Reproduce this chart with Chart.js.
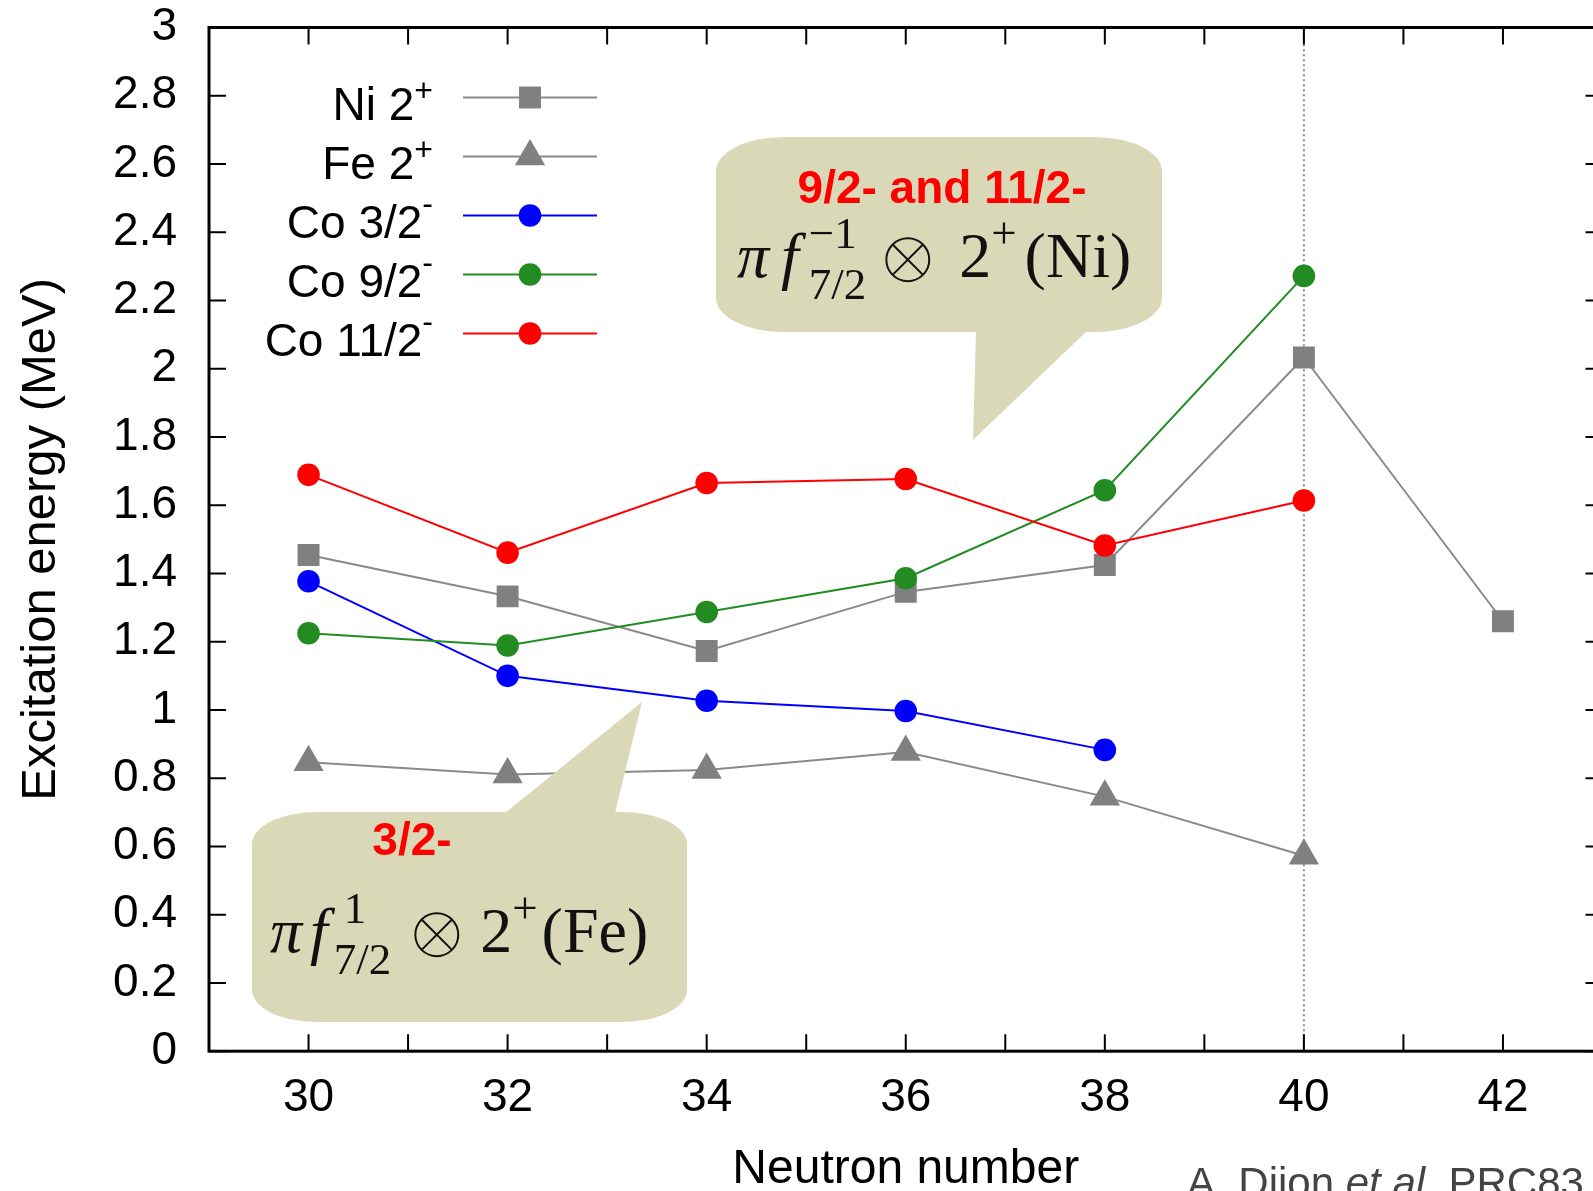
<!DOCTYPE html>
<html>
<head>
<meta charset="utf-8">
<title>Excitation energy vs neutron number</title>
<script src="https://cdn.jsdelivr.net/npm/chart.js@4.4.0/dist/chart.umd.min.js"></script>
<style>
  html, body { margin: 0; padding: 0; background: #fff; overflow: hidden; }
  #wrap { width: 1620px; height: 1191px; }
</style>
</head>
<body>
<div id="wrap"><canvas id="levels"></canvas></div>
<script>
var SANS = '"Liberation Sans", Arial, sans-serif';
var SERIF = '"Liberation Serif", "DejaVu Serif", serif';

// first excited levels (MeV) for each neutron number
var neutronNumber = [30, 32, 34, 36, 38, 40, 42];
var ni2plus  = [1.454, 1.333, 1.173, 1.346, 1.425, 2.033, 1.260];
var fe2plus  = [0.847, 0.811, 0.824, 0.877, 0.746, 0.573, null];
var co3half  = [1.377, 1.100, 1.027, 0.997, 0.883, null, null];
var co9half  = [1.225, 1.189, 1.287, 1.386, 1.644, 2.272, null];
var co11half = [1.689, 1.461, 1.665, 1.677, 1.482, 1.614, null];

var xTickLabels = [30, 32, 34, 36, 38, 40, 42];
var yTickValues = [0, 0.2, 0.4, 0.6, 0.8, 1, 1.2, 1.4, 1.6, 1.8, 2, 2.2, 2.4, 2.6, 2.8, 3];
var shellClosureN = 40;

var legendNames = ['Ni 2', 'Fe 2', 'Co 3/2', 'Co 9/2', 'Co 11/2'];
var legendSups  = ['+', '+', '-', '-', '-'];

function points(vals) {
    return neutronNumber.map(function (n, i) {
        return { x: n, y: vals[i] };
    }).filter(function (p) { return p.y !== null; });
}

function series(vals, line, mark, style, radius, order) {
    return {
        data: points(vals),
        borderColor: line,
        borderWidth: 2,
        backgroundColor: mark,
        pointBackgroundColor: mark,
        pointBorderWidth: 0,
        pointStyle: style,
        pointRadius: radius,
        tension: 0,
        fill: false,
        order: order
    };
}

// speech bubbles with the configurations
var bubbles = [
    { x: 716, y: 137, w: 446, h: 195, rx: 68, ry: 34,
      tail: [[976, 331], [973, 440], [1087, 331]],
      title: '9/2- and 11/2-', titleX: 942, titleY: 203,
      mathX: 737, mathY: 277,
      math: [{ t: 'π', it: true }, { t: 'f', it: true, gap: 12 }, { sup: '−1', sub: '7/2', dx: 10 },
             { otimes: true, gap: 20 }, { t: '2', gap: 30 }, { sup: '+' }, { t: '(Ni)', gap: 8 }] },
    { x: 252, y: 812, w: 435, h: 210, rx: 65, ry: 32,
      tail: [[505, 813], [642, 702], [615, 813]],
      title: '3/2-', titleX: 412, titleY: 855,
      mathX: 270, mathY: 952,
      math: [{ t: 'π', it: true }, { t: 'f', it: true, gap: 8 }, { sup: '1', sub: '7/2', dx: 6, supDx: 10 },
             { otimes: true, gap: 24 }, { t: '2', gap: 22 }, { sup: '+' }, { t: '(Fe)', gap: 4 }] }
];

function bubblePath(ctx, b) {
    var x = b.x, y = b.y, w = b.w, h = b.h, rx = b.rx, ry = b.ry;
    ctx.beginPath();
    ctx.moveTo(x + rx, y);
    ctx.lineTo(x + w - rx, y);
    ctx.ellipse(x + w - rx, y + ry, rx, ry, 0, -Math.PI / 2, 0);
    ctx.lineTo(x + w, y + h - ry);
    ctx.ellipse(x + w - rx, y + h - ry, rx, ry, 0, 0, Math.PI / 2);
    ctx.lineTo(x + rx, y + h);
    ctx.ellipse(x + rx, y + h - ry, rx, ry, 0, Math.PI / 2, Math.PI);
    ctx.lineTo(x, y + ry);
    ctx.ellipse(x + rx, y + ry, rx, ry, 0, Math.PI, Math.PI * 1.5);
    ctx.closePath();
    ctx.fill();
    ctx.beginPath();
    ctx.moveTo(b.tail[0][0], b.tail[0][1]);
    ctx.lineTo(b.tail[1][0], b.tail[1][1]);
    ctx.lineTo(b.tail[2][0], b.tail[2][1]);
    ctx.closePath();
    ctx.fill();
}

function drawFormula(ctx, tokens, x, y, size) {
    var small = Math.round(size * 0.7);
    ctx.textAlign = 'left';
    ctx.textBaseline = 'alphabetic';
    tokens.forEach(function (tk) {
        x += tk.gap || 0;
        if (tk.otimes) {
            // circled times drawn as strokes, thin like the TeX glyph
            var r = size * 0.335, cy = y - size * 0.27, cx = x + r, d = r * Math.SQRT1_2;
            ctx.save();
            ctx.strokeStyle = ctx.fillStyle;
            ctx.lineWidth = 2;
            ctx.beginPath();
            ctx.arc(cx, cy, r, 0, Math.PI * 2);
            ctx.moveTo(cx - d, cy - d); ctx.lineTo(cx + d, cy + d);
            ctx.moveTo(cx + d, cy - d); ctx.lineTo(cx - d, cy + d);
            ctx.stroke();
            ctx.restore();
            x += 2 * r;
        } else if (tk.t) {
            ctx.font = (tk.it ? 'italic ' : '') + size + 'px ' + SERIF;
            ctx.fillText(tk.t, x, y);
            x += ctx.measureText(tk.t).width;
        } else {
            ctx.font = small + 'px ' + SERIF;
            var base = x + (tk.dx || 0), w = 0, sdx = tk.supDx || 0;
            if (tk.sup) {
                ctx.fillText(tk.sup, base + sdx, y - size * 0.46);
                w = Math.max(w, sdx + ctx.measureText(tk.sup).width);
            }
            if (tk.sub) {
                ctx.fillText(tk.sub, base, y + size * 0.34);
                w = Math.max(w, ctx.measureText(tk.sub).width);
            }
            x = base + w;
        }
    });
}

var decorations = {
    id: 'decorations',
    beforeDatasetsDraw: function (chart) {
        var ctx = chart.ctx, a = chart.chartArea;
        var px = chart.scales.x.getPixelForValue(shellClosureN);
        ctx.save();
        ctx.strokeStyle = '#8c8c8c';
        ctx.lineWidth = 2;
        ctx.setLineDash([2, 3]);
        ctx.beginPath();
        ctx.moveTo(px, a.bottom);
        ctx.lineTo(px, a.top);
        ctx.stroke();
        ctx.restore();
    },
    afterDatasetsDraw: function (chart) {
        var ctx = chart.ctx, a = chart.chartArea;
        var xs = chart.scales.x, ys = chart.scales.y, tl = 17;
        ctx.save();
        ctx.strokeStyle = '#000';
        ctx.lineWidth = 2;
        ctx.beginPath();
        xs.ticks.forEach(function (t) {
            var px = xs.getPixelForValue(t.value);
            ctx.moveTo(px, a.bottom); ctx.lineTo(px, a.bottom - tl);
            ctx.moveTo(px, a.top); ctx.lineTo(px, a.top + tl);
        });
        ys.ticks.forEach(function (t) {
            var py = ys.getPixelForValue(t.value);
            ctx.moveTo(a.left, py); ctx.lineTo(a.left + tl, py);
            ctx.moveTo(a.right, py); ctx.lineTo(a.right - tl, py);
        });
        ctx.stroke();
        ctx.lineWidth = 3;
        ctx.strokeRect(a.left, a.top, a.right - a.left, a.bottom - a.top);
        ctx.restore();
    },
    afterDraw: function (chart) {
        var ctx = chart.ctx, a = chart.chartArea;
        ctx.save();

        // key, top left inside the frame
        var textRight = a.left + 224, lineL = a.left + 254, lineR = a.left + 388, markX = a.left + 321;
        legendNames.forEach(function (name, i) {
            var ds = chart.data.datasets[i];
            var y = a.top + 70 + i * 59;
            ctx.font = '32px ' + SANS;
            var supW = ctx.measureText(legendSups[i]).width;
            ctx.fillStyle = '#000';
            ctx.textAlign = 'right';
            ctx.textBaseline = 'alphabetic';
            ctx.fillText(legendSups[i], textRight, y + 22 - (legendSups[i] === '+' ? 19 : 24));
            ctx.font = '46px ' + SANS;
            ctx.fillText(name, textRight - supW, y + 22);

            ctx.strokeStyle = ds.borderColor;
            ctx.lineWidth = ds.borderWidth;
            ctx.beginPath();
            ctx.moveTo(lineL, y);
            ctx.lineTo(lineR, y);
            ctx.stroke();
            ctx.fillStyle = ds.pointBackgroundColor;
            Chart.helpers.drawPoint(ctx, {
                pointStyle: ds.pointStyle, radius: ds.pointRadius, rotation: 0, borderWidth: 0
            }, markX, y);
        });

        bubbles.forEach(function (b) {
            ctx.fillStyle = '#dad9b7';
            bubblePath(ctx, b);
            ctx.fillStyle = '#ff0000';
            ctx.font = 'bold 46px ' + SANS;
            ctx.textAlign = 'center';
            ctx.textBaseline = 'alphabetic';
            ctx.fillText(b.title, b.titleX, b.titleY);
            ctx.fillStyle = '#111';
            drawFormula(ctx, b.math, b.mathX, b.mathY, 64);
        });

        // reference line under the axis
        var cx = 1187, cy = 1197;
        ctx.fillStyle = '#444';
        ctx.textAlign = 'left';
        ctx.font = '42px ' + SANS;
        ctx.fillText('A. Dijon ', cx, cy);
        cx += ctx.measureText('A. Dijon ').width;
        ctx.font = 'italic 42px ' + SANS;
        ctx.fillText('et al.', cx, cy);
        cx += ctx.measureText('et al.').width;
        ctx.font = '42px ' + SANS;
        ctx.fillText(' PRC83', cx, cy);
        ctx.restore();
    }
};

var ctx = document.getElementById('levels').getContext('2d');
var chart = new Chart(ctx, {
    type: 'line',
    data: {
        datasets: [
            series(ni2plus, '#8a8a8a', '#808080', 'rect', 15.5, 5),
            series(fe2plus, '#8a8a8a', '#808080', 'triangle', 17.5, 4),
            series(co3half, '#0000ff', '#0000ff', 'circle', 11.3, 3),
            series(co9half, '#228b22', '#228b22', 'circle', 11.3, 2),
            series(co11half, '#ff0000', '#ff0000', 'circle', 11.3, 1)
        ]
    },
    options: {
        responsive: true,
        maintainAspectRatio: false,
        animation: false,
        layout: { padding: { top: 1, right: 15, left: 0, bottom: 0 } },
        plugins: {
            legend: { display: false },
            tooltip: { enabled: false }
        },
        scales: {
            x: {
                type: 'linear',
                min: 29,
                max: 43,
                grid: { display: false, drawTicks: false },
                border: { display: false },
                afterFit: function (scale) { scale.paddingLeft = 0; scale.paddingRight = 0; },
                ticks: {
                    stepSize: 1,
                    autoSkip: false,
                    maxRotation: 0,
                    padding: 20,
                    color: '#000',
                    font: { family: SANS, size: 46 },
                    callback: function (v) { return xTickLabels.indexOf(v) >= 0 ? String(v) : ''; }
                },
                title: {
                    display: true,
                    text: 'Neutron number',
                    color: '#000',
                    font: { family: SANS, size: 48 },
                    padding: { top: -5, bottom: -8 }
                }
            },
            y: {
                min: 0,
                max: 3,
                grid: { display: false, drawTicks: false },
                border: { display: false },
                afterFit: function (scale) {
                    scale.width = 209;
                    scale.paddingTop = 27.5;
                    scale.paddingBottom = 0;
                },
                afterBuildTicks: function (scale) {
                    scale.ticks = yTickValues.map(function (v) { return { value: v }; });
                },
                ticks: {
                    padding: 32,
                    color: '#000',
                    font: { family: SANS, size: 46 },
                    callback: function (v) { return String(parseFloat(v.toFixed(1))); }
                },
                title: {
                    display: true,
                    text: 'Excitation energy (MeV)',
                    color: '#000',
                    font: { family: SANS, size: 49 },
                    padding: { top: 12, bottom: 0 }
                }
            }
        }
    },
    plugins: [decorations]
});
</script>
</body>
</html>
